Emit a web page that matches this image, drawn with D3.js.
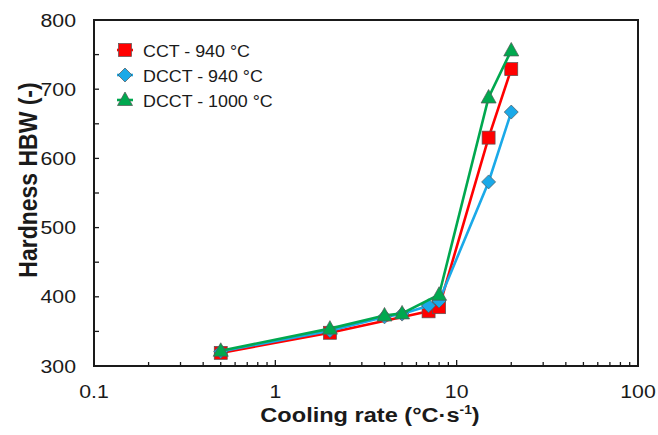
<!doctype html>
<html>
<head>
<meta charset="utf-8"/>
<script src="https://cdn.jsdelivr.net/npm/d3@7"></script>
<style>
  body { margin:0; background:#fff; }
  text { font-family: Arial, "Liberation Sans", sans-serif; }
</style>
</head>
<body>
<script>
// data
var seriesNames = ["CCT - 940 °C", "DCCT - 940 °C", "DCCT - 1000 °C"];
var seriesColors = ["#ff0000", "#1aa9e8", "#00a84f"];
var cctRate  = [0.5, 2, 7, 8, 15, 20];
var cctHBW   = [319, 348, 379, 385, 630, 729];
var dcct940Rate = [0.5, 2, 4, 5, 7, 8, 15, 20];
var dcct940HBW  = [321, 351, 371, 375, 387, 394, 566, 667];
var dcct1000Rate = [0.5, 2, 4, 5, 8, 15, 20];
var dcct1000HBW  = [322, 354, 373, 376, 403, 688, 756];
var xTicks = [0.1, 1, 10, 100];
var yTicks = [300, 400, 500, 600, 700, 800];

var width = 658, height = 435;
var pL = 94, pR = 638, pT = 20, pB = 366;
var sx = 1.15; // picture text is a bit wide

var svg = d3.select("body").append("svg").attr("width", width).attr("height", height);

var x = d3.scaleLog().domain([0.1, 100]).range([pL, pR]);
var y = d3.scaleLinear().domain([300, 800]).range([pB, pT]);

// frame
svg.append("rect").attr("x", pL).attr("y", pT)
  .attr("width", pR - pL).attr("height", pB - pT)
  .attr("fill", "none").attr("stroke", "#1a1a1a").attr("stroke-width", 2);

// x minor ticks (inside)
var minor = [];
[0.1, 1, 10].forEach(function(d) { for (var k = 2; k <= 9; k++) minor.push(d * k); });
svg.selectAll(".xm").data(minor).enter().append("line")
  .attr("x1", function(d) { return x(d); }).attr("x2", function(d) { return x(d); })
  .attr("y1", pB).attr("y2", pB - 4)
  .attr("stroke", "#1a1a1a").attr("stroke-width", 1.3);
svg.selectAll(".xM").data([1, 10]).enter().append("line")
  .attr("x1", function(d) { return x(d); }).attr("x2", function(d) { return x(d); })
  .attr("y1", pB).attr("y2", pB - 6)
  .attr("stroke", "#1a1a1a").attr("stroke-width", 1.3);

// y ticks (inside, every 50)
svg.selectAll(".ym").data(d3.range(350, 800, 50)).enter().append("line")
  .attr("x1", pL).attr("x2", pL + 5)
  .attr("y1", function(d) { return y(d); }).attr("y2", function(d) { return y(d); })
  .attr("stroke", "#1a1a1a").attr("stroke-width", 1.3);

// tick labels
svg.selectAll(".xl").data(xTicks).enter().append("text")
  .attr("transform", function(d) { return "translate(" + x(d) + ",398) scale(" + sx + ",1)"; })
  .attr("text-anchor", "middle").attr("font-size", 18.5).attr("fill", "#1a1a1a")
  .text(function(d) { return d; });
svg.selectAll(".yl").data(yTicks).enter().append("text")
  .attr("transform", function(d) { return "translate(76," + (y(d) + 6.5) + ") scale(" + sx + ",1)"; })
  .attr("text-anchor", "end").attr("font-size", 18.5).attr("fill", "#1a1a1a")
  .text(function(d) { return d; });

// axis titles
var xt = svg.append("text").attr("transform", "translate(370,422) scale(" + sx + ",1)")
  .attr("text-anchor", "middle").attr("font-size", 20.5).attr("font-weight", "bold").attr("fill", "#1a1a1a");
xt.append("tspan").text("Cooling rate (°C·s");
xt.append("tspan").attr("dy", -8).attr("font-size", 12).text("-1");
xt.append("tspan").attr("dy", 8).text(")");

svg.append("text").attr("transform", "translate(37,180) scale(" + sx + ",1) rotate(-90)")
  .attr("text-anchor", "middle").attr("font-size", 23).attr("font-weight", "bold").attr("fill", "#1a1a1a")
  .text("Hardness HBW (-)");

// series
var series = [
  { rate: cctRate, hbw: cctHBW, shape: "square" },
  { rate: dcct940Rate, hbw: dcct940HBW, shape: "diamond" },
  { rate: dcct1000Rate, hbw: dcct1000HBW, shape: "triangle" }
];

function marker(g, shape, color, cx, cy) {
  if (shape == "square") {
    g.append("rect").attr("x", cx - 6.5).attr("y", cy - 6.5).attr("width", 13).attr("height", 13)
      .attr("fill", color).attr("stroke", "#555").attr("stroke-width", 0.7);
  } else if (shape == "diamond") {
    g.append("path").attr("d", "M" + cx + "," + (cy - 7) + "L" + (cx + 7) + "," + cy + "L" + cx + "," + (cy + 7) + "L" + (cx - 7) + "," + cy + "Z")
      .attr("fill", color).attr("stroke", "#555").attr("stroke-width", 0.7);
  } else {
    g.append("path").attr("d", "M" + cx + "," + (cy - 8) + "L" + (cx + 7.5) + "," + (cy + 5.5) + "L" + (cx - 7.5) + "," + (cy + 5.5) + "Z")
      .attr("fill", color).attr("stroke", "#555").attr("stroke-width", 0.7);
  }
}

var line = d3.line().x(function(d) { return x(d[0]); }).y(function(d) { return y(d[1]); });

series.forEach(function(s, i) {
  var pts = d3.zip(s.rate, s.hbw);
  var g = svg.append("g");
  g.append("path").attr("d", line(pts)).attr("fill", "none")
    .attr("stroke", seriesColors[i]).attr("stroke-width", 2.6);
  pts.forEach(function(p) { marker(g, s.shape, seriesColors[i], x(p[0]), y(p[1])); });
});

// legend
seriesNames.forEach(function(name, i) {
  var ly = 50 + i * 25;
  var g = svg.append("g");
  g.append("line").attr("x1", 117).attr("x2", 133).attr("y1", ly).attr("y2", ly)
    .attr("stroke", seriesColors[i]).attr("stroke-width", 2.6);
  marker(g, series[i].shape, seriesColors[i], 125, ly);
  g.append("text").attr("transform", "translate(143," + (ly + 6.5) + ") scale(1.05,1)")
    .attr("font-size", 17).attr("fill", "#1a1a1a").text(name);
});
</script>
</body>
</html>
